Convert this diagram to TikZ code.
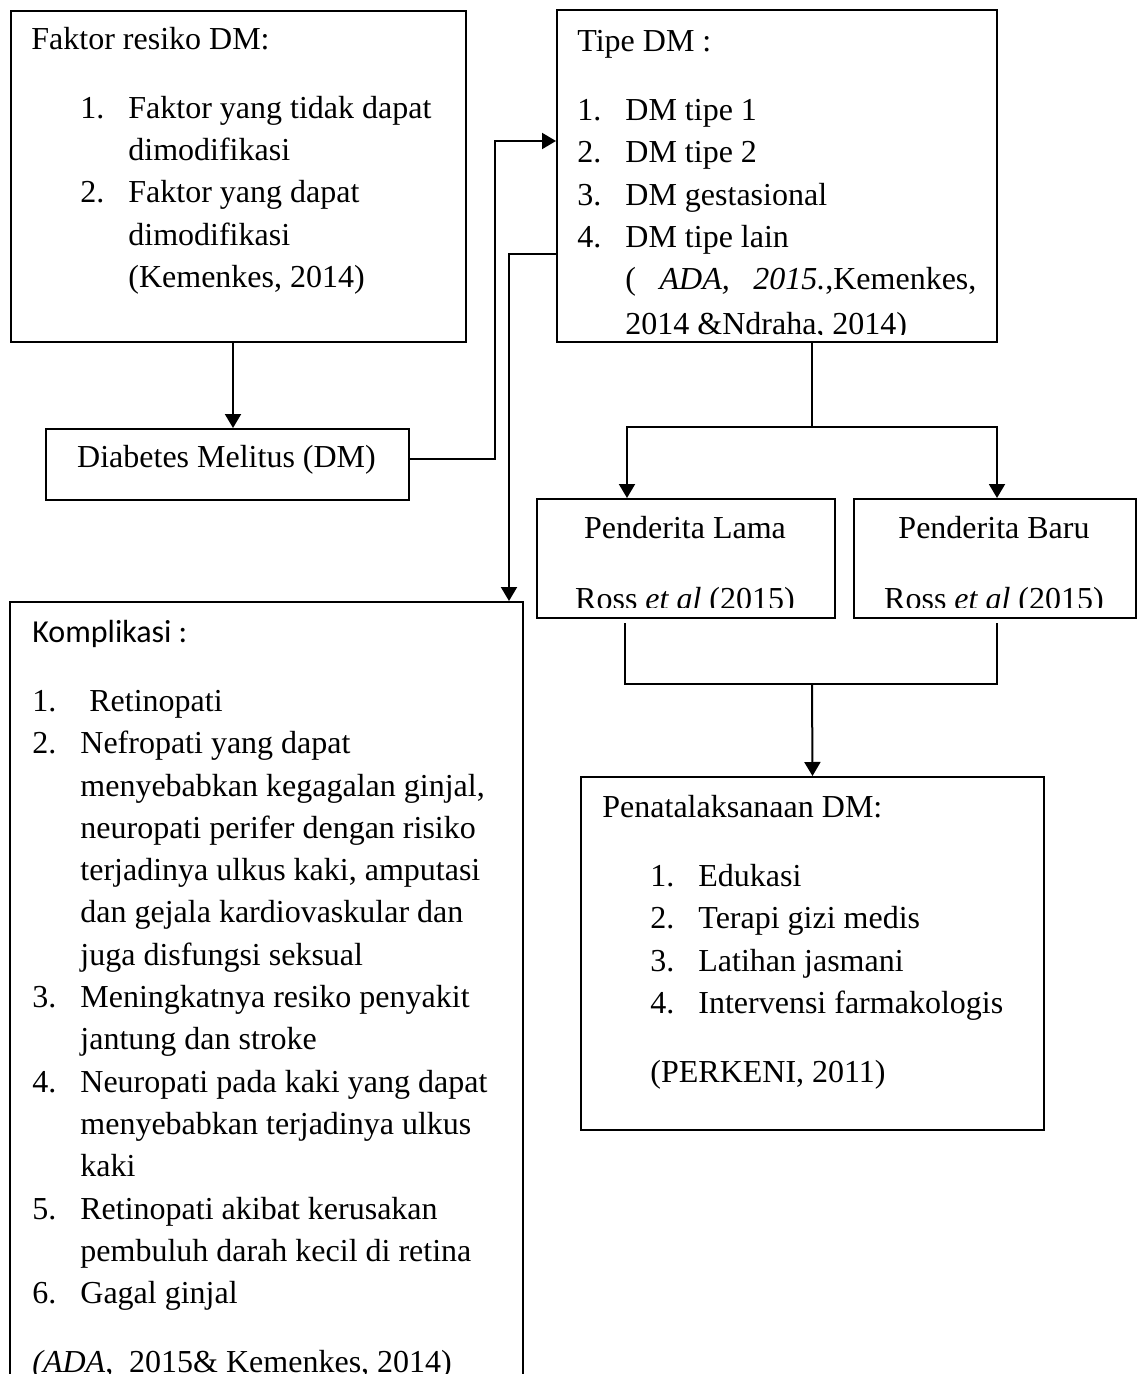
\documentclass[tikz,border=0pt]{standalone}
\usepackage{fontspec}
\setmainfont{Liberation Serif}
\newfontfamily\calibri{Carlito}
\usetikzlibrary{positioning,arrows.meta}

\newcommand{\butir}[3]{\hspace*{#1}\makebox[24pt][l]{#2}#3}
\newcommand{\lanjut}[2]{\hspace*{#1}\hspace*{24pt}#2}

\tikzset{
	kotak/.style={draw, line width=1pt, inner sep=0pt, anchor=north west},
	isi/.style={inner sep=0pt, anchor=north west, align=left, font=\fontsize{16}{21.15}\selectfont},
	tengah/.style={inner sep=0pt, anchor=base, font=\fontsize{16}{21.15}\selectfont},
	garis/.style={line width=1pt}
}

\begin{document}
\begin{tikzpicture}[x=0.5pt, y=-0.5pt, >={Triangle[length=7pt,width=8pt]}]
	\useasboundingbox (0,0) rectangle (1137,1374);
	\clip (0,0) rectangle (1137,1374);
	% BOXES
	\node[kotak, minimum width=227.5pt, minimum height=165.5pt] (faktor) at (10,10) {};
	\node[kotak, minimum width=181.5pt, minimum height=35.5pt] (dm) at (45,428) {};
	\node[kotak, minimum width=220pt, minimum height=166pt] (tipe) at (556,9) {};
	\node[kotak, minimum width=149pt, minimum height=59.5pt] (lama) at (536,498) {};
	\node[kotak, minimum width=141pt, minimum height=59.5pt] (baru) at (853,498) {};
	\node[kotak, minimum width=256.5pt, minimum height=400pt] (komp) at (9,601) {};
	\node[kotak, minimum width=231.5pt, minimum height=176.5pt] (pena) at (580,776) {};
	% TEXTS
	\node[isi] (tFaktor) at (31,25) {\rule{0pt}{12pt}Faktor resiko DM:\\[13.35pt]
		\butir{24.5pt}{1.}{Faktor yang tidak dapat}\\
		\lanjut{24.5pt}{dimodifikasi}\\
		\butir{24.5pt}{2.}{Faktor yang dapat}\\
		\lanjut{24.5pt}{dimodifikasi}\\
		\lanjut{24.5pt}{(Kemenkes, 2014)}};
	\node[tengah] (tDm) at (226.5,467) {Diabetes Melitus (DM)};
	\begin{scope}
		\clip (556,9) rectangle (997,335);
		\node[isi] (tTipe) at (577,27) {\rule{0pt}{12pt}Tipe DM :\\[13.35pt]
			\butir{0pt}{1.}{DM tipe 1}\\
			\butir{0pt}{2.}{DM tipe 2}\\
			\butir{0pt}{3.}{DM gestasional}\\
			\butir{0pt}{4.}{DM tipe lain}\\
			\lanjut{0pt}{\hbox to 175.5pt{(\hfil\textit{ADA,}\hfil\textit{2015.},Kemenkes,}}\\[1.5pt]
			\lanjut{0pt}{2014 \&Ndraha, 2014)}};
	\end{scope}
	\node[tengah] (tLama) at (685,538) {Penderita Lama};
	\node[tengah] (tBaru) at (994,538) {Penderita Baru};
	\begin{scope}
		\clip (536,498) rectangle (1135,607);
		\node[tengah] (rLama) at (685,609) {Ross \textit{et al} (2015)};
		\node[tengah] (rBaru) at (994,609) {Ross \textit{et al} (2015)};
	\end{scope}
	\node[isi] (tKomp) at (32,618) {\rule{0pt}{12pt}{\calibri Komplikasi :}\\[13.35pt]
		\butir{0pt}{1.}{\hspace*{4.5pt}Retinopati}\\
		\butir{0pt}{2.}{Nefropati yang dapat}\\
		\lanjut{0pt}{menyebabkan kegagalan ginjal,}\\
		\lanjut{0pt}{neuropati perifer dengan risiko}\\
		\lanjut{0pt}{terjadinya ulkus kaki, amputasi}\\
		\lanjut{0pt}{dan gejala kardiovaskular dan}\\
		\lanjut{0pt}{juga disfungsi seksual}\\
		\butir{0pt}{3.}{Meningkatnya resiko penyakit}\\
		\lanjut{0pt}{jantung dan stroke}\\
		\butir{0pt}{4.}{Neuropati pada kaki yang dapat}\\
		\lanjut{0pt}{menyebabkan terjadinya ulkus}\\
		\lanjut{0pt}{kaki}\\
		\butir{0pt}{5.}{Retinopati akibat kerusakan}\\
		\lanjut{0pt}{pembuluh darah kecil di retina}\\
		\butir{0pt}{6.}{Gagal ginjal}\\[13.35pt]
		\textit{(ADA}, \ 2015\& Kemenkes, 2014)};
	\node[isi] (tPena) at (602,793) {\rule{0pt}{12pt}Penatalaksanaan DM:\\[13.35pt]
		\butir{24pt}{1.}{Edukasi}\\
		\butir{24pt}{2.}{Terapi gizi medis}\\
		\butir{24pt}{3.}{Latihan jasmani}\\
		\butir{24pt}{4.}{Intervensi farmakologis}\\[13.35pt]
		\hspace*{24pt}(PERKENI, 2011)};
	% CONNECTORS
	\coordinate (kolomA) at (233,0);
	\coordinate (keluarDm) at (0,459);
	\coordinate (belok1) at (495,141);
	\coordinate (belok2) at (509,254);
	\coordinate (cabang) at (812,427);
	\coordinate (kiri) at (627,0);
	\coordinate (kanan) at (997,0);
	\coordinate (kiriB) at (625,623);
	\coordinate (kananB) at (997,623);
	\coordinate (gabung) at (812,684);
	\draw[garis, ->] (faktor.south -| kolomA) -- (dm.north -| kolomA);
	\draw[garis, ->] (dm.east |- keluarDm) -| (belok1) -- (belok1 -| tipe.west);
	\draw[garis, ->] (belok2 -| tipe.west) -- (belok2) -- (belok2 |- komp.north);
	\draw[garis] (tipe.south -| cabang) -- (cabang);
	\draw[garis, ->] (cabang) -| (lama.north -| kiri);
	\draw[garis, ->] (cabang) -| (baru.north -| kanan);
	\draw[garis] (kiriB) |- (gabung) -| (kananB);
	\draw[garis, ->] (gabung) -- (pena.north);
\end{tikzpicture}
\end{document}
